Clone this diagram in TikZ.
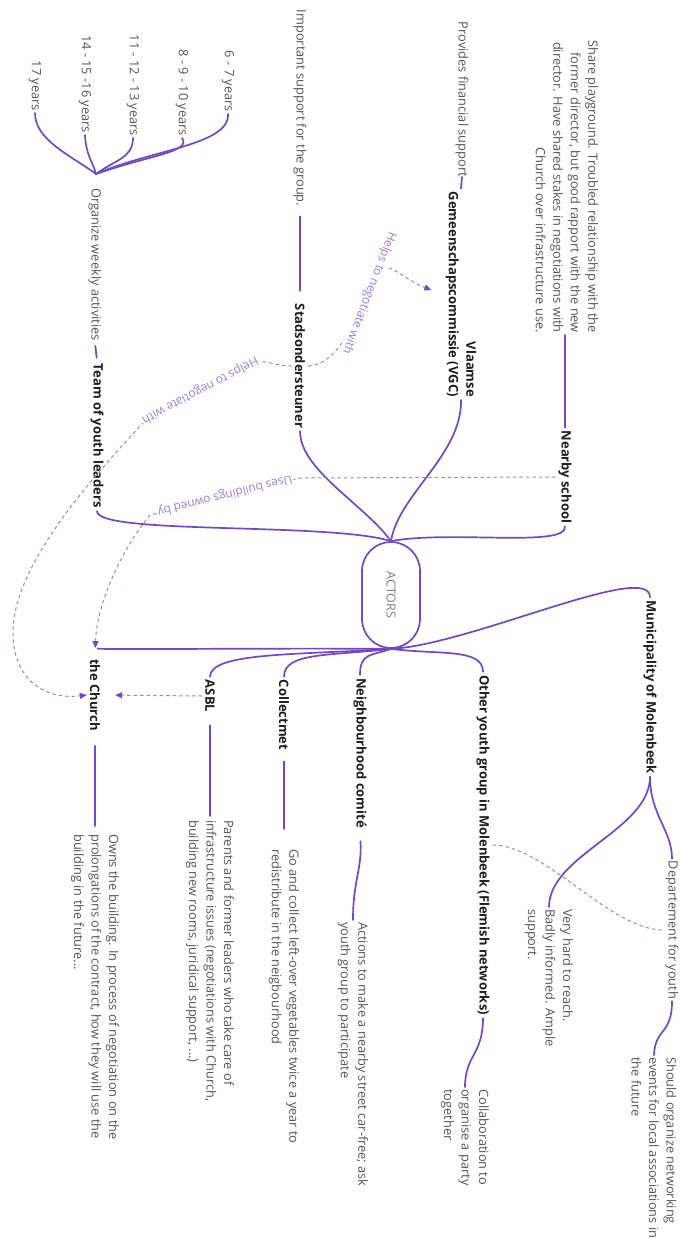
\documentclass[tikz,border=0pt]{standalone}
\usepackage{fontspec}
\setmainfont{Open Sans}
\usetikzlibrary{arrows.meta}
\definecolor{lin}{HTML}{7448C4}
\definecolor{dsh}{HTML}{9C8CB8}
\definecolor{lbl}{HTML}{A07CD8}
\definecolor{txt}{HTML}{555555}
\definecolor{hd}{HTML}{1E1E1E}
\tikzset{
  every node/.style={font=\fontsize{12.8}{17.5}\selectfont},
  actor/.style={rotate=-90, font=\fontsize{13}{17.5}\selectfont\bfseries, text=hd, inner sep=3pt},
  note/.style={rotate=-90, text=txt, inner sep=2pt},
  notel/.style={note, align=left},
  noter/.style={note, align=right},
  branch/.style={draw=lin, line width=1.7pt, line cap=round},
  rel/.style={draw=dsh, line width=1pt, dash pattern=on 3.5pt off 3pt},
  relarrow/.style={rel, -{Triangle[length=7pt,width=6pt,color=lin]}},
  lab/.style={text=lbl, font=\fontsize{12}{14}\selectfont, fill=white, inner sep=1pt},
}
\begin{document}
\begin{tikzpicture}[x=1pt,y=-1pt]
\fill[white] (0,0) rectangle (680,1239);
\useasboundingbox (0,0) rectangle (680,1239);

% central node
\node[rotate=-90, draw=lin, line width=1.7pt, rounded corners=29pt, minimum width=106pt, minimum height=58pt, text=gray, font=\fontsize{12.5}{14}\selectfont] (actors) at (391,595) {ACTORS};

% upper actors
\node[noter, anchor=east] (share) at (567,335) {Share playground. Troubled relationship with the\\former director, but good rapport with the new\\director. Have shared stakes in negotiations with\\Church over infrastructure use.};
\node[actor] (school) at (565,477) {Nearby school};
\node[actor, align=right, anchor=east] (vgc) at (461,400) {Vlaamse\\Gemeenschapscommissie (VGC)};
\node[note, anchor=east, inner sep=0pt] (fin) at (462,177) {Provides financial support};
\node[actor] (stad) at (300,366) {Stadsondersteuner};
\node[note] (imp) at (300,108) {Important support for the group.};
\node[actor] (team) at (97,436) {Team of youth leaders};
\node[note, anchor=west] (org) at (95,186) {Organize weekly activities};
\coordinate (ohub) at (96,174);
\node[note, anchor=east] (a1) at (228,114) {6 - 7 years};
\node[note, anchor=east] (a2) at (182,138) {8 - 9 - 10 years};
\node[note, anchor=east] (a3) at (133,138) {11 - 12 - 13 years};
\node[note, anchor=east] (a4) at (85,135) {14 - 15 -16 years};
\node[note, anchor=east] (a5) at (35,113) {17 years};

% lower actors
\node[actor] (muni) at (650,687) {Municipality of Molenbeek};
\node[note] (dept) at (672,930) {Departement for youth};
\node[notel, anchor=west] (should) at (654,1055) {Should organize networking\\events for local associations in\\the future};
\node[notel, anchor=west] (very) at (549,907) {Very hard to reach.\\Badly informed. Ample\\support.};
\node[actor] (other) at (483,845) {Other youth group in Molenbeek (Flemish networks)};
\node[notel, anchor=west] (collab) at (465,1087) {Collaboration to\\organise a party\\together};
\node[actor] (neigh) at (360,753) {Neighbourhood comité};
\node[notel, anchor=west] (actions) at (353,920) {Actions to make a nearby street car-free; ask\\youth group to participate};
\node[actor] (coll) at (284,715) {Collectmet};
\node[notel, anchor=west] (go) at (284,847) {Go and collect left-over vegetables twice a year to\\redistribute in the neigbourhood};
\node[actor] (asbl) at (210,696) {ASBL};
\node[notel, anchor=west] (parents) at (210,818) {Parents and former leaders who take care of\\infrastructure issues (negotiations with Church,\\building new rooms, juridical support, ...)};
\node[actor] (church) at (95,695) {the Church};
\node[notel, anchor=west] (owns) at (95,832) {Owns the building. In process of negotiation on the\\prolongations of the contract, how they will use the\\building in the future...};

% branches from hub (top)
\draw[branch] (actors.west) .. controls (450,530) and (567,548) .. (school.east);
\draw[branch] (actors.west) .. controls (398,495) and (462,455) .. (vgc.east);
\draw[branch] (actors.west) .. controls (365,505) and (300,470) .. (stad.east);
\draw[branch] (actors.west) .. controls (330,522) and (97,535) .. (team.east);
\draw[branch] (school.west) -- (school.west |- share.east);
\draw[branch] (fin.east) -- (vgc.west);
\draw[branch, shorten <=8pt, shorten >=10pt] (imp.east) -- (stad.west);
\draw[branch, shorten <=3pt, shorten >=3pt] (org.east) -- (team.west);
\draw[branch] (ohub) .. controls (150,150) and (230,145) .. (a1.east);
\draw[branch] (ohub) .. controls (150,155) and (192,152) .. (a2.east);
\draw[branch] (ohub) .. controls (115,160) and (133,158) .. (a3.east);
\draw[branch] (ohub) .. controls (92,160) and (86,155) .. (a4.east);
\draw[branch] (ohub) .. controls (70,155) and (35,140) .. (a5.east);

% branches from hub (bottom)
\draw[branch, shorten >=8pt] (actors.east) .. controls (250,648) and (97,650) .. (church.west);
\draw[branch] (actors.east) .. controls (300,655) and (210,652) .. (asbl.west);
\draw[branch] (actors.east) .. controls (330,656) and (284,652) .. (coll.west);
\draw[branch] (actors.east) .. controls (372,656) and (360,652) .. (neigh.west);
\draw[branch] (actors.east) .. controls (440,655) and (483,648) .. (other.west);
\draw[branch] (actors.east) .. controls (470,645) and (650,560) .. (muni.west);
\draw[branch] (muni.east) .. controls (650,815) and (672,830) .. (dept.west);
\draw[branch] (muni.east) .. controls (650,830) and (549,855) .. (very.west);
\draw[branch] (dept.east) .. controls (672,1035) and (655,1028) .. (should.west);
\draw[branch] (other.east) .. controls (483,1055) and (465,1055) .. (collab.west);
\draw[branch, shorten <=10pt] (neigh.east) .. controls (362,870) and (353,880) .. (actions.west);
\draw[branch, shorten <=8pt, shorten >=18pt] (coll.east) -- (go.west);
\draw[branch, shorten <=10pt, shorten >=2pt] (asbl.east) -- (parents.west);
\draw[branch, shorten <=12pt, shorten >=6pt] (church.east) -- (owns.west);

% dashed relations
\draw[relarrow, shorten >=12pt] (stad.north) .. controls (345,364) and (362,300) .. (378,268) .. controls (390,262) and (405,280) .. (vgc.south);
\node[lab, rotate=-111] (l1) at (369,293) {Helps to negotiate with};

\draw[relarrow] (stad.south) .. controls (275,366) and (266,360) .. (258,362) -- (142,424) .. controls (100,470) and (15,560) .. (13,630) .. controls (12,680) and (45,700) .. (church.south);
\node[lab, rotate=-152] (l2) at (200,390) {Helps to negotiate with};

\draw[relarrow, shorten >=8pt] (school.south) -- (300,478) -- (150,515) .. controls (125,545) and (97,600) .. (church.west);
\node[lab, rotate=-166] (l3) at (225,495) {Uses buildings owned by};

\draw[relarrow, shorten >=12pt] (asbl.south) -- (church.north);
\draw[rel] (other.north) .. controls (545,845) and (610,930) .. (dept.south);
\end{tikzpicture}
\end{document}
